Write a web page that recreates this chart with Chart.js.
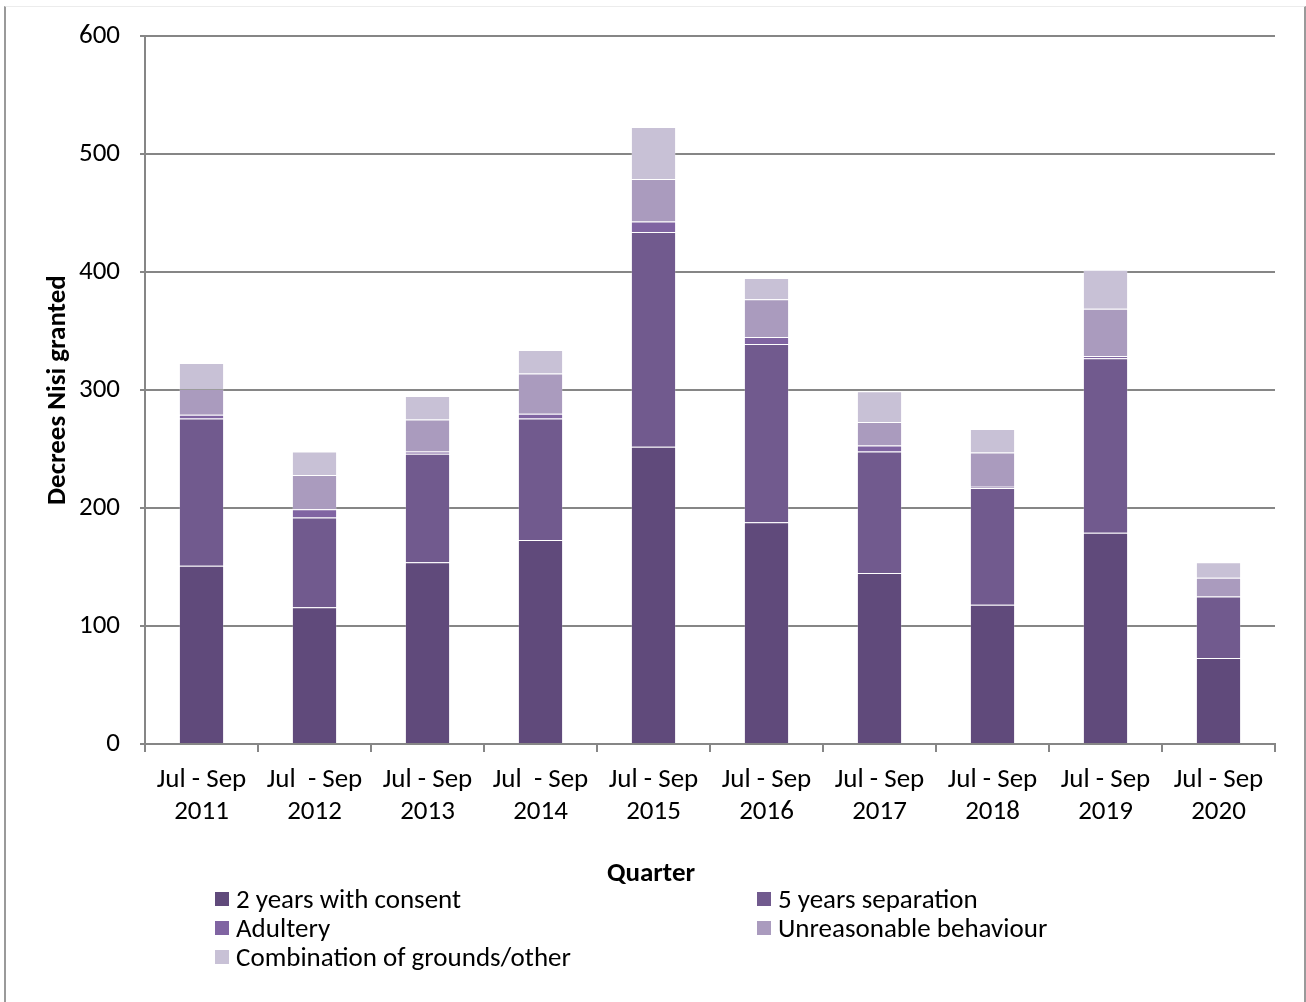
<!DOCTYPE html>
<html>
<head>
<meta charset="utf-8">
<script src="https://cdn.jsdelivr.net/npm/chart.js@4/dist/chart.umd.min.js"></script>
<style>
  html, body { margin: 0; padding: 0; background: #fff; }
  #wrap { position: relative; width: 1306px; height: 1002px; overflow: hidden; }
  #frame { position: absolute; left: 4px; top: 6px; width: 1298px; height: 1000px;
           border-left: 2px solid #9a9a9a; border-right: 2px solid #9a9a9a; border-top: 1px solid #ececec; }
  canvas { position: absolute; left: 0; top: 0; }
  .leg { position: absolute; font-family: Carlito, Calibri, Lato, sans-serif; font-size: 27px; color: #000;
         line-height: 28px; white-space: nowrap; }
  .leg span.sw { position: absolute; width: 14px; height: 14px; left: -21px; top: 7px; }
  #xtitle { position: absolute; left: 551px; width: 200px; top: 856px; text-align: center;
            font-family: Carlito, Calibri, Lato, sans-serif; font-size: 27px; font-weight: bold; line-height: 32px; color: #000; }
</style>
</head>
<body>
<div id="wrap">
  <div id="frame"></div>
  <canvas id="c" width="1306" height="1002"></canvas>
  <div id="xtitle"></div>
  <div id="legend"></div>
</div>
<script>
const categories = [
  ['Jul - Sep', '2011'], ['Jul  - Sep', '2012'], ['Jul - Sep', '2013'], ['Jul  - Sep', '2014'],
  ['Jul - Sep', '2015'], ['Jul - Sep', '2016'], ['Jul - Sep', '2017'], ['Jul - Sep', '2018'],
  ['Jul - Sep', '2019'], ['Jul - Sep', '2020']
];
const twoYearsConsent   = [151, 116, 154, 173, 252, 188, 145, 118, 179, 73];
const fiveYearsSep      = [125,  76,  92, 103, 182, 151, 103,  99, 148, 52];
const adultery          = [  3,   7,   2,   4,   9,   6,   5,   1,   2,  0];
const unreasonable      = [ 22,  29,  27,  34,  36,  32,  20,  29,  40, 16];
const combination       = [ 22,  20,  20,  20,  44,  18,  26,  20,  33, 13];
const yTicks = [0, 100, 200, 300, 400, 500, 600];
const xAxisTitle = 'Quarter';
const yAxisTitle = 'Decrees Nisi granted';

const seriesNames = ['2 years with consent', '5 years separation', 'Adultery', 'Unreasonable behaviour', 'Combination of grounds/other'];
const seriesColors = ['#604A7B', '#715A8E', '#8064A2', '#AA9BBE', '#C8C1D6'];
const seriesData = [twoYearsConsent, fiveYearsSep, adultery, unreasonable, combination];

const FONT = 'Carlito, Calibri, Lato, sans-serif';

const datasets = seriesNames.map((n, i) => ({
  label: n,
  data: seriesData[i],
  backgroundColor: seriesColors[i],
  borderColor: 'rgba(255,255,255,0.18)',
  borderWidth: 1,
  barPercentage: 0.4,
  categoryPercentage: 1.0
}));

const chart = new Chart(document.getElementById('c'), {
  type: 'bar',
  data: { labels: categories, datasets },
  options: {
    responsive: false,
    devicePixelRatio: 1,
    animation: false,
    layout: { padding: { top: 36, right: 31, bottom: 108, left: 0 } },
    plugins: { legend: { display: false }, tooltip: { enabled: false } },
    scales: {
      x: {
        stacked: true,
        grid: { display: true, drawOnChartArea: false, drawTicks: true, tickLength: 8, color: '#868686', lineWidth: 2, offset: true },
        border: { display: true, color: '#868686', width: 2 },
        ticks: { color: '#000', font: { family: FONT, size: 27, lineHeight: 1.16 }, padding: 13, maxRotation: 0, autoSkip: false },
        title: { display: false },
        afterFit: s => { s.height = 150; }
      },
      y: {
        stacked: true,
        min: 0, max: 600,
        afterBuildTicks: s => { s.ticks = yTicks.map(v => ({ value: v })); },
        grid: { color: '#868686', lineWidth: 2, tickLength: 5, drawTicks: true },
        border: { display: true, color: '#868686', width: 2 },
        ticks: { color: '#000', font: { family: FONT, size: 27 }, padding: 20 },
        title: { display: true, text: yAxisTitle, color: '#000', font: { family: FONT, size: 27, weight: 'bold' }, padding: { top: 42, bottom: 0 } },
        afterFit: s => { s.width = 145; }
      }
    }
  }
});

document.getElementById('xtitle').textContent = xAxisTitle;

// HTML legend built from the chart datasets (two columns)
const legendPos = [[236, 885], [778, 885], [236, 914], [778, 914], [236, 943]];
const legendEl = document.getElementById('legend');
chart.data.datasets.forEach((ds, i) => {
  const d = document.createElement('div');
  d.className = 'leg';
  d.style.left = legendPos[i][0] + 'px';
  d.style.top = legendPos[i][1] + 'px';
  const sw = document.createElement('span');
  sw.className = 'sw';
  sw.style.background = ds.backgroundColor;
  d.appendChild(sw);
  d.appendChild(document.createTextNode(ds.label));
  legendEl.appendChild(d);
});
</script>
</body>
</html>
